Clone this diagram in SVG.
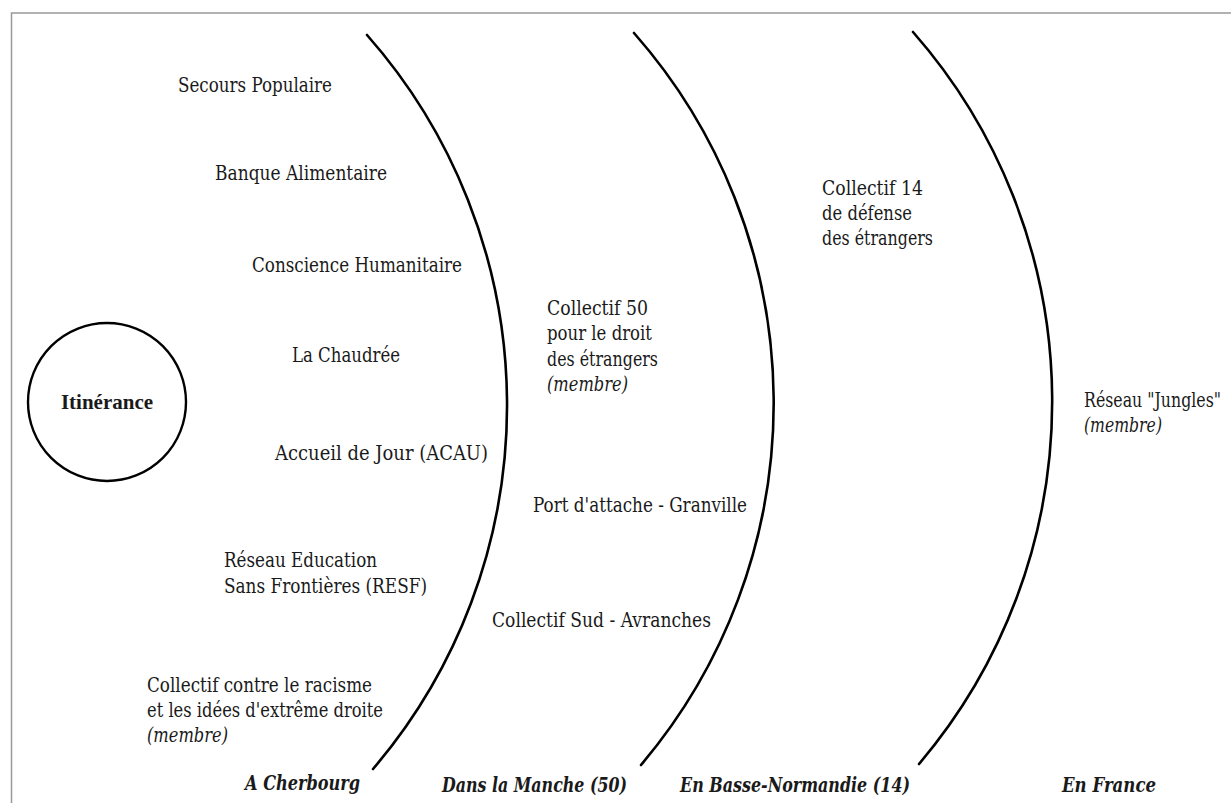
<svg xmlns="http://www.w3.org/2000/svg" width="1231" height="803" viewBox="0 0 1231 803">
<style>
text{font-size:21px;fill:#1a1a1a}
.i{font-style:italic}
.b{font-weight:bold}
.bi{font-weight:bold;font-style:italic}
.arc{fill:none;stroke:#000;stroke-width:2.6;stroke-linecap:round}
</style>
<rect x="0" y="0" width="1231" height="803" fill="#fff"/>
<rect x="11.5" y="13" width="1240" height="820" fill="none" stroke="#999" stroke-width="1.5"/>
<g id="arcs">
<path class="arc" d="M367 35 A560 560 0 0 1 373 769"/>
<path class="arc" d="M634 33 A560 560 0 0 1 641 765"/>
<path class="arc" d="M913 32 A560 560 0 0 1 919 764"/>
</g>
<g id="itinerance">
<circle cx="107" cy="402" r="79" fill="none" stroke="#000" stroke-width="2.4"/>
<text class="b" x="107" y="409" text-anchor="middle" font-family="Liberation Serif, serif">Itinérance</text>
</g>
<g font-family="DejaVu Serif, serif">
<g id="secours"><text x="178" y="92" textLength="154" lengthAdjust="spacingAndGlyphs">Secours Populaire</text></g>
<g id="banque"><text x="215" y="180" textLength="172" lengthAdjust="spacingAndGlyphs">Banque Alimentaire</text></g>
<g id="conscience"><text x="252" y="272" textLength="210" lengthAdjust="spacingAndGlyphs">Conscience Humanitaire</text></g>
<g id="chaudree"><text x="292" y="362" textLength="108" lengthAdjust="spacingAndGlyphs">La Chaudrée</text></g>
<g id="acau"><text x="275" y="460" textLength="213" lengthAdjust="spacingAndGlyphs">Accueil de Jour (ACAU)</text></g>
<g id="resf"><text x="224" y="567" textLength="153" lengthAdjust="spacingAndGlyphs">Réseau Education</text><text x="224" y="593" textLength="203" lengthAdjust="spacingAndGlyphs">Sans Frontières (RESF)</text></g>
<g id="racisme"><text x="147" y="692" textLength="225" lengthAdjust="spacingAndGlyphs">Collectif contre le racisme</text><text x="147" y="717" textLength="236" lengthAdjust="spacingAndGlyphs">et les idées d'extrême droite</text><text class="i" x="147" y="742" textLength="81" lengthAdjust="spacingAndGlyphs">(membre)</text></g>
<g id="collectif50"><text x="547" y="315" textLength="101" lengthAdjust="spacingAndGlyphs">Collectif 50</text><text x="547" y="340" textLength="105" lengthAdjust="spacingAndGlyphs">pour le droit</text><text x="547" y="366" textLength="111" lengthAdjust="spacingAndGlyphs">des étrangers</text><text class="i" x="547" y="391" textLength="81" lengthAdjust="spacingAndGlyphs">(membre)</text></g>
<g id="granville"><text x="533" y="512" textLength="214" lengthAdjust="spacingAndGlyphs">Port d'attache - Granville</text></g>
<g id="avranches"><text x="492" y="627" textLength="219" lengthAdjust="spacingAndGlyphs">Collectif Sud - Avranches</text></g>
<g id="collectif14"><text x="822" y="195" textLength="101" lengthAdjust="spacingAndGlyphs">Collectif 14</text><text x="822" y="220" textLength="90" lengthAdjust="spacingAndGlyphs">de défense</text><text x="822" y="245" textLength="111" lengthAdjust="spacingAndGlyphs">des étrangers</text></g>
<g id="jungles"><text x="1084" y="407" textLength="137" lengthAdjust="spacingAndGlyphs">Réseau "Jungles"</text><text class="i" x="1084" y="432" textLength="78" lengthAdjust="spacingAndGlyphs">(membre)</text></g>
<g id="labels">
<text class="bi" x="245" y="790" textLength="115" lengthAdjust="spacingAndGlyphs">A Cherbourg</text>
<text class="bi" x="442" y="792" textLength="185" lengthAdjust="spacingAndGlyphs">Dans la Manche (50)</text>
<text class="bi" x="680" y="792" textLength="230" lengthAdjust="spacingAndGlyphs">En Basse-Normandie (14)</text>
<text class="bi" x="1062" y="792" textLength="94" lengthAdjust="spacingAndGlyphs">En France</text>
</g>
</g>
</svg>
